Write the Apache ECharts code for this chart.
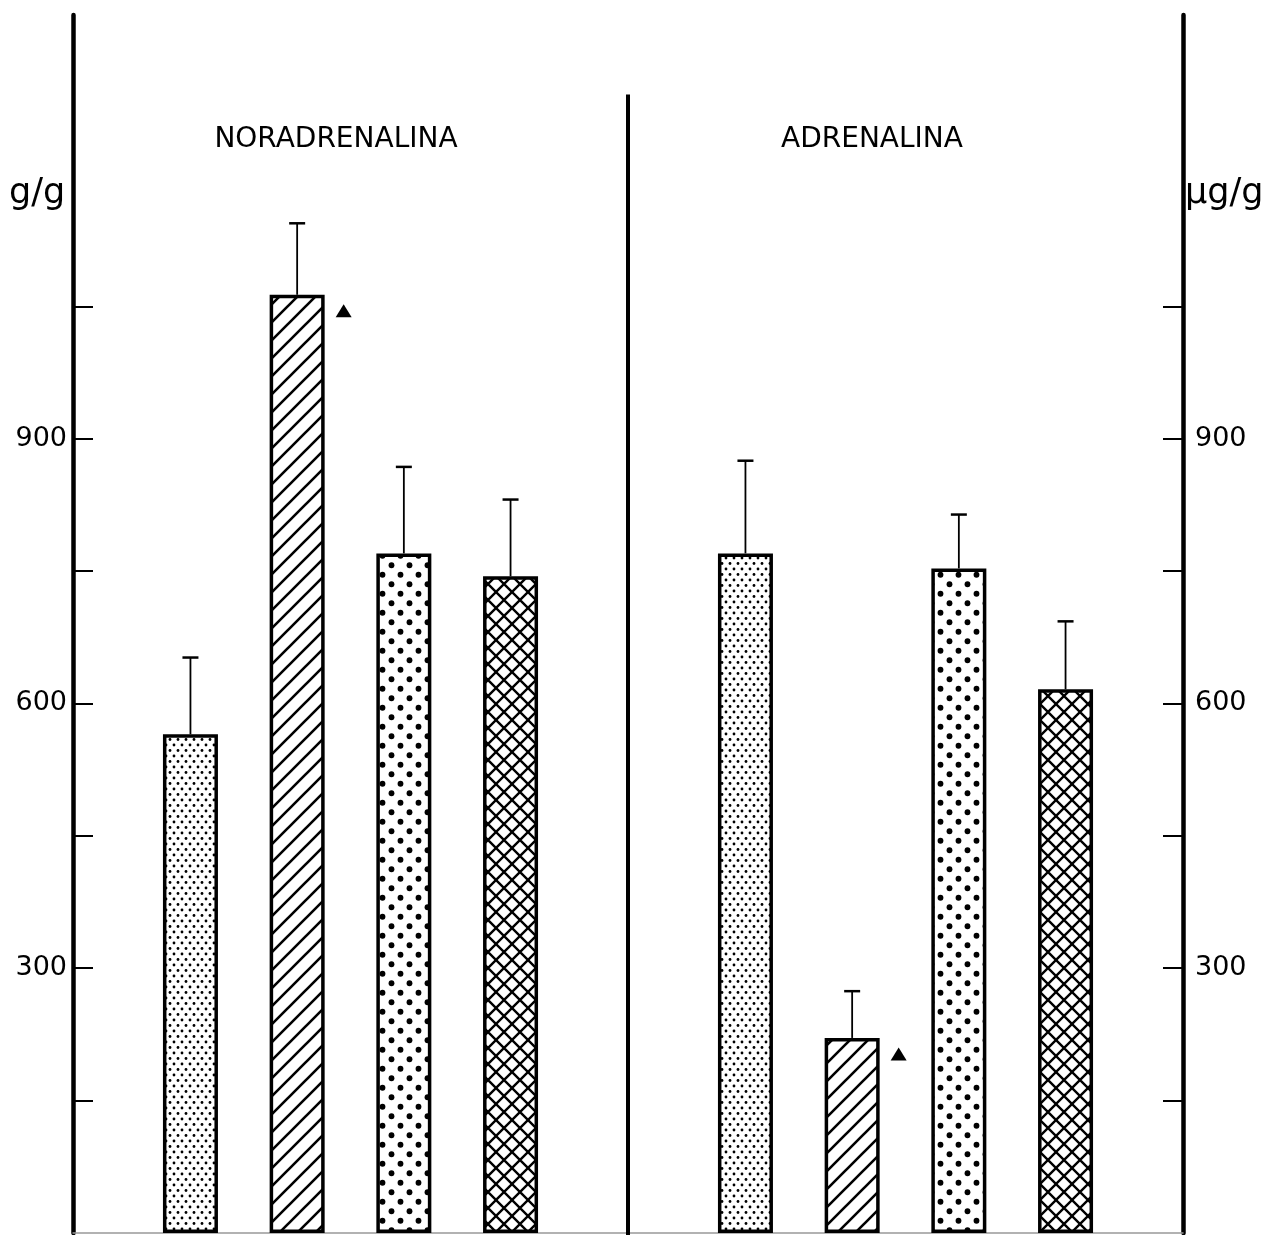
<!DOCTYPE html>
<html><head><meta charset="utf-8">
<script src="https://cdn.jsdelivr.net/npm/echarts@6/dist/echarts.min.js"></script>
<style>html,body{margin:0;padding:0;background:#fff}#c{width:1281px;height:1235px}</style>
</head><body><div id="c"></div>
<script>
// ---- data ----
const categories = ['NORADRENALINA', 'ADRENALINA'];
const seriesNames = ['Grupo 1', 'Grupo 2', 'Grupo 3', 'Grupo 4'];
const means1 = [565, 770];
const means2 = [1063, 221];
const means3 = [770, 753];
const means4 = [744, 616];
const sem1 = [87, 105];
const sem2 = [81, 53];
const sem3 = [98, 61];
const sem4 = [87, 77];
const sig1 = [0, 0];
const sig2 = [1, 1];
const sig3 = [0, 0];
const sig4 = [0, 0];
const tickValues = [150, 300, 450, 600, 750, 900, 1050];
const labelValues = [300, 600, 900];
const leftUnit = 'g/g';
const rightUnit = 'µg/g';

// ---- layout constants ----
const BAR_W = 55, GAP_PCT = 94, DIVIDER_TOP = 1290, Y_MAX = 1380;
const FONT = 'DejaVu Sans';

function makePattern(kind) {
  const cv = document.createElement('canvas');
  let ctx;
  if (kind === 'fineDots') {
    cv.width = 8; cv.height = 11; ctx = cv.getContext('2d');
    ctx.fillStyle = '#fff'; ctx.fillRect(0, 0, 8, 11);
    ctx.fillStyle = '#000';
    [[2, 2.5], [6, 8]].forEach(p => { ctx.beginPath(); ctx.arc(p[0], p[1], 1.4, 0, Math.PI * 2); ctx.fill(); });
  } else if (kind === 'bigDots') {
    cv.width = 18; cv.height = 19; ctx = cv.getContext('2d');
    ctx.fillStyle = '#fff'; ctx.fillRect(0, 0, 18, 19);
    ctx.fillStyle = '#000';
    [[4.5, 4.75], [13.5, 14.25]].forEach(p => { ctx.beginPath(); ctx.arc(p[0], p[1], 2.9, 0, Math.PI * 2); ctx.fill(); });
  } else if (kind === 'hatch') {
    const s = 18;
    cv.width = s; cv.height = s; ctx = cv.getContext('2d');
    ctx.fillStyle = '#fff'; ctx.fillRect(0, 0, s, s);
    ctx.strokeStyle = '#000'; ctx.lineWidth = 2.6;
    ctx.beginPath();
    ctx.moveTo(-2, s + 2); ctx.lineTo(s + 2, -2);
    ctx.moveTo(-2, 2); ctx.lineTo(2, -2);
    ctx.moveTo(s - 2, s + 2); ctx.lineTo(s + 2, s - 2);
    ctx.stroke();
  } else {
    const s = 16;
    cv.width = s; cv.height = s; ctx = cv.getContext('2d');
    ctx.fillStyle = '#fff'; ctx.fillRect(0, 0, s, s);
    ctx.strokeStyle = '#000'; ctx.lineWidth = 2.4;
    ctx.beginPath();
    ctx.moveTo(-2, s + 2); ctx.lineTo(s + 2, -2);
    ctx.moveTo(-2, 2); ctx.lineTo(2, -2);
    ctx.moveTo(s - 2, s + 2); ctx.lineTo(s + 2, s - 2);
    ctx.moveTo(-2, -2); ctx.lineTo(s + 2, s + 2);
    ctx.moveTo(-2, s - 2); ctx.lineTo(2, s + 2);
    ctx.moveTo(s - 2, -2); ctx.lineTo(s + 2, 2);
    ctx.stroke();
  }
  return { image: cv, repeat: 'repeat' };
}

const patterns = [makePattern('fineDots'), makePattern('hatch'), makePattern('bigDots'), makePattern('cross')];
const allMeans = [means1, means2, means3, means4];
const allSem = [sem1, sem2, sem3, sem4];
const allSig = [sig1, sig2, sig3, sig4];

const barSeries = allMeans.map((m, k) => ({
  type: 'bar', name: seriesNames[k], data: m, barWidth: BAR_W, barGap: GAP_PCT + '%',
  itemStyle: { color: patterns[k], borderColor: '#000', borderWidth: 3.5 },
  emphasis: { disabled: true }, z: 2
}));

const errData = [];
allMeans.forEach((m, k) => m.forEach((v, c) => errData.push([c, k, v, allSem[k][c], allSig[k][c]])));

const errSeries = {
  type: 'custom', name: 'SEM', data: errData, encode: { x: 0, y: 2 }, z: 5, clip: false,
  renderItem: function (params, api) {
    const c = api.value(0), k = api.value(1), m = api.value(2), s = api.value(3), sig = api.value(4);
    const step = BAR_W * (1 + GAP_PCT / 100);
    const p = api.coord([c, m]);
    const x = p[0] + (k - 1.5) * step;
    const yTop = p[1];
    const yErr = api.coord([c, m + s])[1];
    const children = [
      { type: 'line', shape: { x1: x, y1: yTop, x2: x, y2: yErr }, style: { stroke: '#000', lineWidth: 1.8 } },
      { type: 'line', shape: { x1: x - 8, y1: yErr, x2: x + 8, y2: yErr }, style: { stroke: '#000', lineWidth: 2.5 } }
    ];
    if (sig) {
      const tx = x + BAR_W / 2 + 19, ty = yTop + 16;
      children.push({ type: 'polygon', shape: { points: [[tx - 8, ty + 6.5], [tx + 8, ty + 6.5], [tx, ty - 6.5]] }, style: { fill: '#000' } });
    }
    return { type: 'group', children: children };
  }
};

const dividerSeries = {
  type: 'custom', name: 'divider', data: [[0, DIVIDER_TOP]], encode: { x: 0, y: 1 }, z: 5, clip: false,
  renderItem: function (params, api) {
    const band = api.size([1, 0])[0];
    const top = api.coord([0, api.value(1)]);
    const bottom = api.coord([0, 0]);
    const x = top[0] + band / 2;
    return { type: 'line', shape: { x1: x, y1: top[1], x2: x, y2: bottom[1] + 4 }, style: { stroke: '#000', lineWidth: 4 } };
  }
};

const chart = echarts.init(document.getElementById('c'), null, { renderer: 'canvas' });
const yAxisCommon = {
  type: 'value', min: 0, max: Y_MAX, splitLine: { show: false },
  axisLine: { show: true, lineStyle: { color: '#000', width: 4.5 } },
  axisTick: { show: true, inside: true, length: 20, customValues: tickValues, lineStyle: { color: '#000', width: 2 } },
  axisLabel: { customValues: labelValues, fontSize: 27, color: '#000', fontFamily: FONT }
};
chart.setOption({
  animation: false,
  backgroundColor: '#fff',
  grid: { left: 73, right: 98, top: 15, bottom: 2, containLabel: false },
  xAxis: {
    type: 'category', data: categories,
    axisLine: { show: true, lineStyle: { color: '#999', width: 1.5 } },
    axisTick: { show: false }, axisLabel: { show: false }, splitLine: { show: false }
  },
  yAxis: [
    Object.assign({}, yAxisCommon, { position: 'left', axisLabel: Object.assign({}, yAxisCommon.axisLabel, { margin: 6 }) }),
    Object.assign({}, yAxisCommon, { position: 'right', axisLabel: Object.assign({}, yAxisCommon.axisLabel, { margin: 12 }) })
  ],
  series: barSeries.concat([errSeries, dividerSeries]),
  graphic: [
    { type: 'text', left: 9, top: 176, style: { text: leftUnit, fontSize: 35, fontFamily: FONT, fill: '#000' } },
    { type: 'text', left: 1185, top: 176, style: { text: rightUnit, fontSize: 35, fontFamily: FONT, fill: '#000' } },
    { type: 'text', x: 336, y: 140, style: { text: categories[0], fontSize: 28, fontFamily: FONT, fill: '#000', align: 'center', verticalAlign: 'middle' } },
    { type: 'text', x: 872, y: 140, style: { text: categories[1], fontSize: 28, fontFamily: FONT, fill: '#000', align: 'center', verticalAlign: 'middle' } }
  ]
});
</script>
</body></html>
